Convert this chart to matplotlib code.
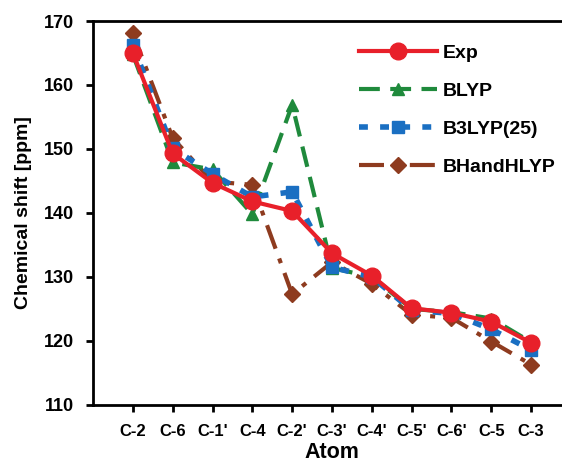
import matplotlib.pyplot as plt

plt.rcParams['font.family'] = ['Liberation Sans', 'DejaVu Sans']
plt.rcParams['font.weight'] = 'bold'

atoms = ["C-2", "C-6", "C-1'", "C-4", "C-2'", "C-3'", "C-4'", "C-5'", "C-6'", "C-5", "C-3"]
exp = [165.0, 149.3, 144.7, 141.8, 140.3, 133.7, 130.2, 125.1, 124.4, 123.0, 119.7]
blyp = [164.8, 147.9, 146.8, 139.8, 156.9, 131.4, 130.0, 125.0, 124.5, 123.5, 119.8]
b3lyp = [166.2, 150.1, 146.1, 142.5, 143.3, 131.5, 130.0, 124.8, 124.3, 121.8, 118.6]
bhandhlyp = [168.1, 151.7, 144.9, 144.4, 127.3, 132.3, 128.9, 124.1, 123.6, 119.9, 116.3]

x = list(range(1, len(atoms) + 1))

fig = plt.figure(figsize=(5.62, 4.67), dpi=100)
ax = fig.add_axes([93 / 562, 0.133, (571 - 93) / 562, 0.822])

ax.plot(x, exp, color='#e8202a', lw=3, marker='o', ms=12, label='Exp', zorder=4)
ax.plot(x, blyp, color='#1f8a3c', lw=3, ls=(0, (5, 2.5)), marker='^', ms=9, label='BLYP', zorder=3)
ax.plot(x, b3lyp, color='#1a6fc2', lw=4, ls=(0, (1.6, 2.2)), marker='s', ms=8.5, label='B3LYP(25)', zorder=3)
ax.plot(x, bhandhlyp, color='#8e3b1f', lw=3, ls=(0, (6, 2.5, 1.2, 2.5)), marker='D', ms=8, label='BHandHLYP', zorder=2)

ax.set_xlim(0, 12)
ax.set_ylim(110, 170)
ax.set_xticks(x)
ax.set_xticklabels(atoms)
ax.set_yticks(range(110, 171, 10))
ax.tick_params(direction='out', length=5, width=2, pad=9)
ax.tick_params(axis='x', labelsize=12)
ax.tick_params(axis='y', labelsize=13)
for side in ax.spines.values():
    side.set_linewidth(2)

ax.set_xlabel('Atom', fontsize=15.5, fontweight='bold', labelpad=2)
ax.set_ylabel('Chemical shift [ppm]', fontsize=14, fontweight='bold', labelpad=8)

ax.legend(loc='upper left', bbox_to_anchor=(0.52, 0.985), frameon=False,
          fontsize=14, handlelength=4.0, labelspacing=1.05, handletextpad=0.3)

fig.savefig('out.png', dpi=100)
